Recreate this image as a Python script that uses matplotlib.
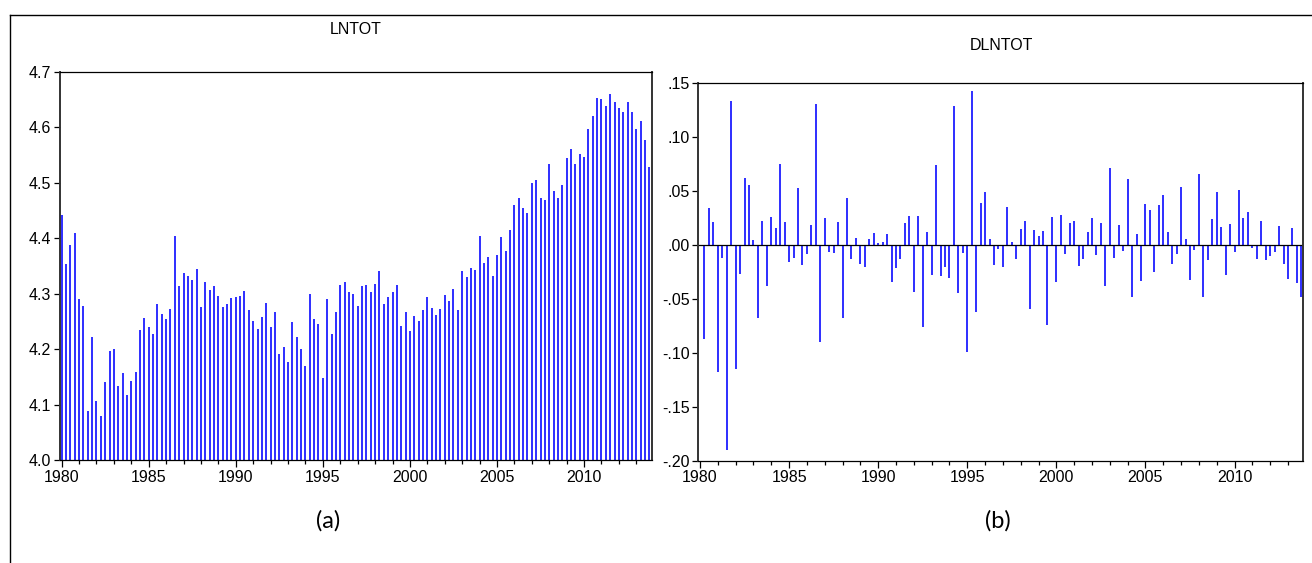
import numpy as np
import matplotlib
matplotlib.use("Agg")
import matplotlib.pyplot as plt
from matplotlib.lines import Line2D
from matplotlib.ticker import FuncFormatter, MultipleLocator

OUT_PATH = "out.png"

# quarterly series, 1980Q1 - 2013Q4
START_YEAR = 1980
lntot = [
    4.442, 4.354, 4.388, 4.409, 4.290, 4.278, 4.088, 4.221, 4.106, 4.079,
    4.141, 4.196, 4.201, 4.133, 4.156, 4.117, 4.143, 4.159, 4.234, 4.256,
    4.240, 4.228, 4.281, 4.263, 4.254, 4.273, 4.403, 4.314, 4.338, 4.332,
    4.324, 4.344, 4.276, 4.320, 4.307, 4.313, 4.296, 4.275, 4.281, 4.292,
    4.293, 4.296, 4.305, 4.271, 4.250, 4.237, 4.257, 4.283, 4.240, 4.267,
    4.191, 4.204, 4.176, 4.249, 4.221, 4.200, 4.170, 4.299, 4.254, 4.246,
    4.147, 4.291, 4.228, 4.267, 4.315, 4.321, 4.302, 4.299, 4.278, 4.313,
    4.315, 4.302, 4.317, 4.340, 4.281, 4.294, 4.302, 4.315, 4.242, 4.267,
    4.233, 4.260, 4.251, 4.271, 4.293, 4.274, 4.261, 4.273, 4.297, 4.287,
    4.308, 4.270, 4.341, 4.329, 4.347, 4.342, 4.403, 4.356, 4.366, 4.332,
    4.369, 4.402, 4.377, 4.414, 4.460, 4.472, 4.454, 4.445, 4.499, 4.505,
    4.472, 4.468, 4.534, 4.485, 4.472, 4.495, 4.544, 4.561, 4.534, 4.552,
    4.546, 4.597, 4.621, 4.653, 4.650, 4.638, 4.660, 4.645, 4.635, 4.628,
    4.645, 4.627, 4.596, 4.612, 4.577, 4.528,
]

# first differences, 1980Q2 - 2013Q4
dlntot = [
    -0.0875, 0.0340, 0.0210, -0.1180, -0.0124, -0.1900, 0.1333, -0.1147, -0.0266, 0.0625,
    0.0557, 0.0046, -0.0680, 0.0223, -0.0383, 0.0257, 0.0158, 0.0754, 0.0216, -0.0158,
    -0.0118, 0.0526, -0.0182, -0.0083, 0.0182, 0.1308, -0.0897, 0.0254, -0.0065, -0.0077,
    0.0210, -0.0680, 0.0436, -0.0133, 0.0068, -0.0176, -0.0207, 0.0059, 0.0111, 0.0019,
    0.0028, 0.0099, -0.0343, -0.0213, -0.0130, 0.0204, 0.0266, -0.0436, 0.0272, -0.0758,
    0.0121, -0.0275, 0.0742, -0.0288, -0.0207, -0.0306, 0.1290, -0.0442, -0.0071, -0.0993,
    0.1425, -0.0622, 0.0387, 0.0495, 0.0053, -0.0186, -0.0040, -0.0204, 0.0356, 0.0028,
    -0.0133, 0.0148, 0.0226, -0.0590, 0.0136, 0.0080, 0.0133, -0.0745, 0.0257, -0.0340,
    0.0275, -0.0083, 0.0201, 0.0223, -0.0192, -0.0130, 0.0117, 0.0247, -0.0096, 0.0207,
    -0.0383, 0.0717, -0.0121, 0.0185, -0.0056, 0.0609, -0.0480, 0.0105, -0.0334, 0.0377,
    0.0325, -0.0247, 0.0371, 0.0464, 0.0117, -0.0176, -0.0083, 0.0538, 0.0059, -0.0325,
    -0.0046, 0.0655, -0.0482, -0.0139, 0.0238, 0.0492, 0.0170, -0.0275, 0.0192, -0.0065,
    0.0507, 0.0247, 0.0309, -0.0028, -0.0127, 0.0220, -0.0142, -0.0105, -0.0068, 0.0176,
    -0.0176, -0.0318, 0.0161, -0.0356, -0.0482,
]

lntot_ticks = [4.0, 4.1, 4.2, 4.3, 4.4, 4.5, 4.6, 4.7]
dlntot_ticks = [-0.20, -0.15, -0.10, -0.05, 0.00, 0.05, 0.10, 0.15]
year_ticks = [1980, 1985, 1990, 1995, 2000, 2005, 2010]

BLUE = "#0000ff"
W, H = 1312, 563
FS = 11.5

plt.rcParams["font.family"] = ["Liberation Sans", "DejaVu Sans"]


def px_box(x0, y0, x1, y1):
    # pixel box (top-left origin) -> figure fraction rect
    return [x0 / W, 1 - y1 / H, (x1 - x0) / W, (y1 - y0) / H]


def style_axis(ax):
    for side in ["top", "bottom"]:
        ax.spines[side].set_linewidth(0.9)
        ax.spines[side].set_color("black")
    for side in ["left", "right"]:
        ax.spines[side].set_linewidth(1.4)
        ax.spines[side].set_color("#333333")
    ax.xaxis.set_minor_locator(MultipleLocator(1))
    ax.set_xticks(year_ticks)
    ax.set_xticklabels([str(y) for y in year_ticks])
    ax.tick_params(axis="x", which="major", direction="out", length=5, width=0.9,
                   labelsize=FS, pad=2, top=False)
    ax.tick_params(axis="x", which="minor", direction="out", length=3, width=0.9, top=False)
    ax.tick_params(axis="y", which="major", direction="out", length=4, width=0.9,
                   labelsize=FS, pad=2, right=False)


fig = plt.figure(figsize=(W / 100, H / 100), dpi=100)

# outer frame
fig.add_artist(Line2D([9.5 / W, 1.0], [1 - 15 / H, 1 - 15 / H], color="black", lw=1.0))
fig.add_artist(Line2D([9.5 / W, 9.5 / W], [0.0, 1 - 15 / H], color="black", lw=1.0))

# (a) LNTOT
x_lev = START_YEAR + np.arange(len(lntot)) / 4
ax1 = fig.add_axes(px_box(59.7, 71.7, 652, 460))
ax1.vlines(x_lev, lntot_ticks[0], lntot, color=BLUE, lw=1.15)
ax1.set_xlim(START_YEAR - 0.11, START_YEAR + 33.9)
ax1.set_ylim(lntot_ticks[0], lntot_ticks[-1])
ax1.set_yticks(lntot_ticks)
ax1.yaxis.set_major_formatter(FuncFormatter(lambda v, p: f"{v:.1f}"))
style_axis(ax1)
fig.text(356 / W, 1 - 30 / H, "LNTOT", ha="center", va="center", fontsize=FS)

# (b) DLNTOT
x_dif = START_YEAR + np.arange(1, len(dlntot) + 1) / 4
ax2 = fig.add_axes(px_box(698.3, 83.3, 1303.3, 460.7))
ax2.vlines(x_dif, 0, dlntot, color=BLUE, lw=1.15)
ax2.axhline(0, color="black", lw=0.9)
ax2.set_xlim(START_YEAR - 0.095, START_YEAR + 33.86)
ax2.set_ylim(dlntot_ticks[0], dlntot_ticks[-1])
ax2.set_yticks(dlntot_ticks)
ax2.yaxis.set_major_formatter(
    FuncFormatter(lambda v, p: f"{v:.2f}".replace("0.", ".", 1)))
style_axis(ax2)
fig.text(1001 / W, 1 - 46 / H, "DLNTOT", ha="center", va="center", fontsize=FS)

# panel labels
fig.text(328 / W, 1 - 521 / H, "(a)", ha="center", va="center", fontsize=17,
         family=["Lato", "DejaVu Sans"])
fig.text(998 / W, 1 - 521 / H, "(b)", ha="center", va="center", fontsize=17,
         family=["Lato", "DejaVu Sans"])

fig.savefig(OUT_PATH, dpi=100)
